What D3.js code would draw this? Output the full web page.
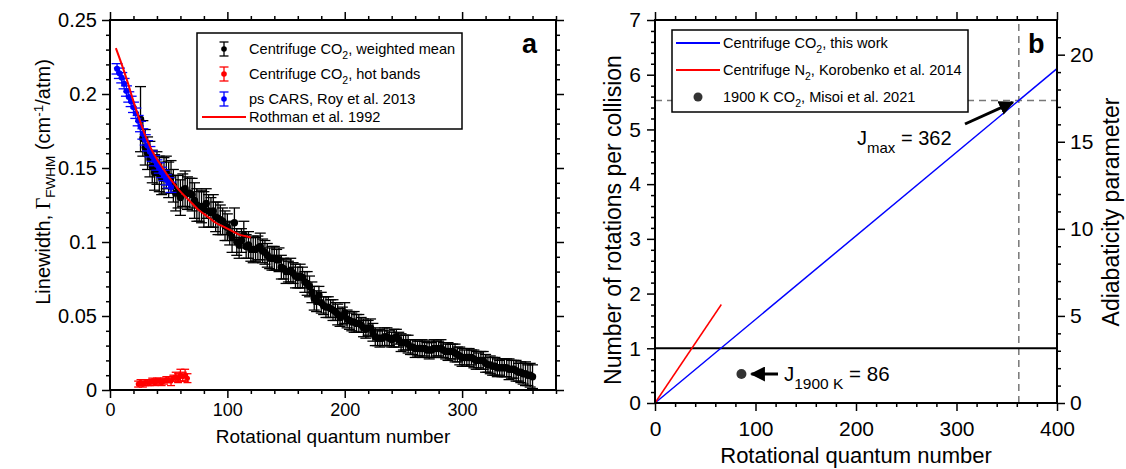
<!DOCTYPE html>
<html>
<head>
<meta charset="utf-8">
<script src="https://cdn.jsdelivr.net/npm/d3@7"></script>
<style>
  body { margin: 0; background: #fff; }
  svg text { font-family: "Liberation Sans", Arial, Helvetica, sans-serif; fill: #000; }
</style>
</head>
<body>
<svg id="chart" width="1126" height="469"></svg>
<script>
// ---- panel a: linewidth data ----
const meanJ = [26,28,30,32,34,36,38,40,42,44,46,48,50,52,54,56,58,60,62,64,66,68,70,72,74,76,78,80,82,84,
  86,88,90,92,94,96,98,100,102,104,106,108,110,112,114,116,118,120,122,124,126,128,130,132,134,136,138,140,
  142,144,146,148,150,152,154,156,158,160,162,164,166,168,170,172,174,176,178,180,182,184,186,188,190,192,
  194,196,198,200,202,204,206,208,210,212,214,216,218,220,222,224,226,228,230,232,234,236,238,240,242,244,
  246,248,250,252,254,256,258,260,262,264,266,268,270,272,274,276,278,280,282,284,286,288,290,292,294,296,
  298,300,302,304,306,308,310,312,314,316,318,320,322,324,326,328,330,332,334,336,338,340,342,344,346,348,
  350,352,354,356,358,360];
const meanG = [0.183,0.170,0.164,0.160,0.156,0.151,0.147,0.150,0.146,0.143,
  0.145,0.147,0.142,0.144,0.138,0.133,0.134,0.130,0.135,0.136,
  0.133,0.133,0.132,0.128,0.125,0.124,0.124,0.122,0.126,0.121,
  0.120,0.121,0.117,0.116,0.115,0.114,0.111,0.110,0.106,0.103,
  0.113,0.100,0.098,0.101,0.105,0.097,0.098,0.095,0.095,0.095,
  0.096,0.097,0.094,0.093,0.091,0.089,0.089,0.089,0.088,0.088,
  0.083,0.082,0.080,0.080,0.081,0.079,0.077,0.076,0.077,0.076,
  0.073,0.072,0.070,0.066,0.062,0.060,0.064,0.059,0.057,0.056,
  0.056,0.055,0.054,0.053,0.051,0.049,0.050,0.052,0.048,0.047,
  0.046,0.046,0.045,0.045,0.044,0.042,0.041,0.042,0.042,0.039,
  0.036,0.035,0.035,0.035,0.036,0.036,0.035,0.034,0.035,0.036,
  0.034,0.032,0.032,0.032,0.031,0.029,0.029,0.028,0.028,0.028,
  0.028,0.028,0.027,0.027,0.027,0.028,0.028,0.028,0.028,0.027,
  0.026,0.026,0.026,0.026,0.025,0.024,0.023,0.022,0.022,0.022,
  0.022,0.022,0.021,0.020,0.020,0.020,0.020,0.018,0.017,0.017,
  0.016,0.016,0.015,0.015,0.015,0.015,0.015,0.014,0.014,0.014,
  0.013,0.012,0.012,0.011,0.011,0.010,0.010,0.009];
const meanErr = [0.022,0.012,0.012,0.011,0.012,0.011,0.012,0.011,0.012,0.011,
  0.012,0.011,0.012,0.011,0.011,0.012,0.011,0.012,0.011,0.012,
  0.011,0.010,0.011,0.012,0.011,0.010,0.011,0.012,0.010,0.011,
  0.010,0.011,0.010,0.011,0.010,0.009,0.010,0.009,0.008,0.010,
  0.010,0.009,0.009,0.008,0.009,0.008,0.009,0.008,0.009,0.008,
  0.008,0.009,0.008,0.008,0.008,0.007,0.008,0.008,0.007,0.008,
  0.008,0.007,0.008,0.007,0.008,0.007,0.008,0.007,0.008,0.007,
  0.007,0.008,0.007,0.007,0.008,0.007,0.006,0.007,0.006,0.007,
  0.007,0.006,0.007,0.006,0.007,0.006,0.006,0.007,0.006,0.006,
  0.006,0.007,0.006,0.006,0.005,0.006,0.006,0.005,0.006,0.006,
  0.006,0.005,0.006,0.005,0.006,0.006,0.005,0.005,0.006,0.005,
  0.005,0.006,0.005,0.005,0.006,0.005,0.005,0.006,0.005,0.005,
  0.006,0.005,0.005,0.006,0.005,0.006,0.005,0.005,0.006,0.005,
  0.005,0.006,0.005,0.005,0.006,0.005,0.006,0.006,0.005,0.006,
  0.006,0.005,0.006,0.006,0.005,0.006,0.006,0.006,0.005,0.006,
  0.006,0.006,0.006,0.005,0.006,0.006,0.006,0.007,0.006,0.006,
  0.007,0.006,0.007,0.007,0.008,0.007,0.008,0.008];

const hotJ = [24,26,28,30,32,34,36,38,40,42,44,46,48,50,52,54,56,58,60,62,64,66];
const hotG = [0.004,0.005,0.004,0.005,0.005,0.005,0.006,0.005,0.006,0.006,0.005,
  0.006,0.007,0.007,0.006,0.008,0.009,0.008,0.010,0.009,0.010,0.008];
const hotErr = [0.002,0.002,0.002,0.002,0.002,0.002,0.002,0.002,0.002,0.002,0.002,
  0.002,0.002,0.002,0.003,0.002,0.003,0.003,0.004,0.003,0.004,0.003];

const carsJ = [6,8,10,12,14,16,18,20,22,24,26,28,30,32,34,36,38,40,42,44,46,48,50,52];
const carsG = [0.217,0.214,0.211,0.207,0.202,0.198,0.195,0.191,0.187,0.182,0.178,0.173,
  0.169,0.165,0.161,0.158,0.155,0.152,0.150,0.147,0.145,0.142,0.140,0.137];
const carsErr = 0.0035;

const rothJ = [5,10,15,20,25,30,35,40,45,50,55,60,65,70,75,80,85,90,95,100,105,110,115,120];
const rothG = [0.231,0.220,0.208,0.195,0.183,0.172,0.163,0.156,0.150,0.144,0.139,0.134,
  0.130,0.126,0.122,0.119,0.116,0.113,0.111,0.109,0.107,0.105,0.104,0.103];

// ---- panel b: rotations per collision ----
const co2LineJ = [0, 400];
const co2LineN = [0, 6.11];
const n2LineJ = [0, 66];
const n2LineN = [0, 1.8];
const misoiJ = 86, misoiN = 0.53;
const jMax = 362, nAtJmax = 5.53;

const svg = d3.select("#chart");

// scales
const xA = d3.scaleLinear().domain([0, 380]).range([110, 556]);
const yA = d3.scaleLinear().domain([0, 0.25]).range([390, 20]);
const xB = d3.scaleLinear().domain([0, 400]).range([655, 1057]);
const yB = d3.scaleLinear().domain([0, 7]).range([403, 20]);
// adiabaticity parameter = pi * rotations per collision
const yB2 = d3.scaleLinear().domain([0, 7 * Math.PI]).range([403, 20]);

// axis helper: major ticks with labels, minor ticks without
function addAxis(axisFn, scale, majors, minors, fmt, transform, fontSize, showLabels, pad) {
  const gMaj = svg.append("g").attr("transform", transform)
    .call(axisFn(scale).tickValues(majors).tickSize(8).tickSizeOuter(0).tickPadding(pad || 5)
      .tickFormat(showLabels ? fmt : ""));
  const gMin = svg.append("g").attr("transform", transform)
    .call(axisFn(scale).tickValues(minors).tickSize(4).tickSizeOuter(0).tickFormat(""));
  [gMaj, gMin].forEach(g => {
    g.select(".domain").remove();
    g.selectAll("line").attr("stroke", "#000").attr("stroke-width", 1.5);
    g.selectAll("text").style("font-size", fontSize + "px").attr("fill", "#000");
  });
  return gMaj;
}

const fmtG = d3.format("~g");

// ---------- panel a axes ----------
const aXMaj = [0, 100, 200, 300];
const aXMin = d3.range(20, 381, 20).filter(v => v % 100 !== 0);
const aYMaj = [0, 0.05, 0.1, 0.15, 0.2, 0.25];
const aYMin = d3.range(1, 25).filter(v => v % 5 !== 0).map(v => v / 100);

addAxis(d3.axisBottom, xA, aXMaj, aXMin, fmtG, "translate(0,390)", 18, true);
addAxis(d3.axisTop, xA, aXMaj, aXMin, fmtG, "translate(0,20)", 18, false);
addAxis(d3.axisLeft, yA, aYMaj, aYMin, fmtG, "translate(110,0)", 20, true);
addAxis(d3.axisRight, yA, aYMaj, aYMin, fmtG, "translate(556,0)", 18, false);

svg.append("rect").attr("x", 110).attr("y", 20).attr("width", 446).attr("height", 370)
  .attr("fill", "none").attr("stroke", "#000").attr("stroke-width", 2);

// error bar helper
function errorBars(js, gs, errs, color, r, capW, xs, ys) {
  const g = svg.append("g");
  js.forEach((j, i) => {
    const e = Array.isArray(errs) ? errs[i] : errs;
    const x = xs(j), y0 = ys(gs[i] - e), y1 = ys(gs[i] + e);
    g.append("line").attr("x1", x).attr("x2", x).attr("y1", y0).attr("y2", y1)
      .attr("stroke", color).attr("stroke-width", 1.3);
    [y0, y1].forEach(yy => g.append("line").attr("x1", x - capW / 2).attr("x2", x + capW / 2)
      .attr("y1", yy).attr("y2", yy).attr("stroke", color).attr("stroke-width", 1.3));
  });
  js.forEach((j, i) => {
    g.append("circle").attr("cx", xs(j)).attr("cy", ys(gs[i])).attr("r", r).attr("fill", color);
  });
}

errorBars(meanJ, meanG, meanErr, "#000", 3.7, 11, xA, yA);
errorBars(hotJ, hotG, hotErr, "#f00", 2.5, 8, xA, yA);
errorBars(carsJ, carsG, carsErr, "#00f", 3, 11, xA, yA);

svg.append("path")
  .datum(rothJ.map((j, i) => [j, rothG[i]]))
  .attr("fill", "none").attr("stroke", "#f00").attr("stroke-width", 2)
  .attr("d", d3.line().x(d => xA(d[0])).y(d => yA(d[1])).curve(d3.curveMonotoneX));

// legend a
svg.append("rect").attr("x", 197).attr("y", 33).attr("width", 265).attr("height", 96)
  .attr("fill", "#fff").attr("stroke", "#000").attr("stroke-width", 1.5);
const legA = [
  { y: 49, color: "#000", pre: "Centrifuge CO", sub: "2", post: ", weighted mean" },
  { y: 74, color: "#f00", pre: "Centrifuge CO", sub: "2", post: ", hot bands" },
  { y: 99, color: "#00f", pre: "ps CARS, Roy et al. 2013", sub: "", post: "" }
];
legA.forEach(d => {
  const x = 224;
  svg.append("line").attr("x1", x).attr("x2", x).attr("y1", d.y - 7).attr("y2", d.y + 7)
    .attr("stroke", d.color).attr("stroke-width", 1.3);
  [d.y - 7, d.y + 7].forEach(yy => svg.append("line").attr("x1", x - 4.5).attr("x2", x + 4.5)
    .attr("y1", yy).attr("y2", yy).attr("stroke", d.color).attr("stroke-width", 1.3));
  svg.append("circle").attr("cx", x).attr("cy", d.y).attr("r", 2.8).attr("fill", d.color);
  const t = svg.append("text").attr("x", 249).attr("y", d.y + 5).style("font-size", "14.6px");
  t.append("tspan").text(d.pre);
  if (d.sub) {
    t.append("tspan").attr("dy", 5).style("font-size", "10.5px").text(d.sub);
    t.append("tspan").attr("dy", -5).text(d.post);
  }
});
svg.append("line").attr("x1", 202).attr("x2", 246).attr("y1", 117).attr("y2", 117)
  .attr("stroke", "#f00").attr("stroke-width", 2);
svg.append("text").attr("x", 249).attr("y", 122).style("font-size", "14.6px").text("Rothman et al. 1992");

svg.append("text").attr("x", 522).attr("y", 53).style("font-size", "27px")
  .style("font-weight", "bold").text("a");

// axis titles a
svg.append("text").attr("x", xA(190)).attr("y", 443).attr("text-anchor", "middle")
  .style("font-size", "19px").text("Rotational quantum number");
const tA = svg.append("text").attr("transform", "translate(50,182) rotate(-90)")
  .attr("text-anchor", "middle").style("font-size", "20px");
tA.append("tspan").text("Linewidth, ");
tA.append("tspan").style("font-family", "'Liberation Serif', 'Times New Roman', serif").text("\u0393");
tA.append("tspan").attr("dy", 5).style("font-size", "13.5px").text("FWHM");
tA.append("tspan").attr("dy", -5).text(" (cm");
tA.append("tspan").attr("dy", -7).style("font-size", "13.5px").text("-1");
tA.append("tspan").attr("dy", 7).text("/atm)");

// ---------- panel b ----------
const bXMaj = [0, 100, 200, 300, 400];
const bXMin = d3.range(20, 400, 20).filter(v => v % 100 !== 0);
const bYMaj = [0, 1, 2, 3, 4, 5, 6, 7];
const bYMin = d3.range(1, 35).filter(v => v % 5 !== 0).map(v => v / 5);
const bY2Maj = [0, 5, 10, 15, 20];
const bY2Min = d3.range(1, 22).filter(v => v % 5 !== 0);

// guide lines
svg.append("line").attr("x1", xB(jMax)).attr("x2", xB(jMax)).attr("y1", yB(0)).attr("y2", yB(7))
  .attr("stroke", "#777").attr("stroke-width", 1.5).attr("stroke-dasharray", "7,5");
svg.append("line").attr("x1", xB(0)).attr("x2", xB(400)).attr("y1", yB(nAtJmax)).attr("y2", yB(nAtJmax))
  .attr("stroke", "#777").attr("stroke-width", 1.5).attr("stroke-dasharray", "7,5");
svg.append("line").attr("x1", xB(0)).attr("x2", xB(400)).attr("y1", yB(1)).attr("y2", yB(1))
  .attr("stroke", "#000").attr("stroke-width", 2);

const lineB = d3.line().x(d => xB(d[0])).y(d => yB(d[1]));
svg.append("path").datum(co2LineJ.map((j, i) => [j, co2LineN[i]]))
  .attr("fill", "none").attr("stroke", "#00f").attr("stroke-width", 1.5).attr("d", lineB);
svg.append("path").datum(n2LineJ.map((j, i) => [j, n2LineN[i]]))
  .attr("fill", "none").attr("stroke", "#f00").attr("stroke-width", 1.5).attr("d", lineB);
svg.append("circle").attr("cx", xB(misoiJ)).attr("cy", yB(misoiN)).attr("r", 5).attr("fill", "#333");

addAxis(d3.axisBottom, xB, bXMaj, bXMin, fmtG, "translate(0,403)", 21, true, 10);
addAxis(d3.axisTop, xB, bXMaj, bXMin, fmtG, "translate(0,20)", 21, false);
addAxis(d3.axisLeft, yB, bYMaj, bYMin, fmtG, "translate(655,0)", 21, true, 6);
addAxis(d3.axisRight, yB2, bY2Maj, bY2Min, fmtG, "translate(1057,0)", 21, true, 5);

svg.append("rect").attr("x", 655).attr("y", 20).attr("width", 402).attr("height", 383)
  .attr("fill", "none").attr("stroke", "#000").attr("stroke-width", 2);

// arrows
svg.append("defs").append("marker").attr("id", "head")
  .attr("viewBox", "0 0 10 10").attr("refX", 9).attr("refY", 5)
  .attr("markerWidth", 5).attr("markerHeight", 5).attr("orient", "auto")
  .append("path").attr("d", "M0,0 L10,5 L0,10 Z").attr("fill", "#000");
svg.append("line").attr("x1", 965).attr("y1", 124).attr("x2", xB(jMax) - 6).attr("y2", yB(nAtJmax) + 2)
  .attr("stroke", "#000").attr("stroke-width", 3).attr("marker-end", "url(#head)");
svg.append("line").attr("x1", 778).attr("y1", yB(misoiN)).attr("x2", xB(misoiJ) + 10).attr("y2", yB(misoiN))
  .attr("stroke", "#000").attr("stroke-width", 3).attr("marker-end", "url(#head)");

const tMax = svg.append("text").attr("x", 857).attr("y", 145).style("font-size", "20px");
tMax.append("tspan").text("J");
tMax.append("tspan").attr("dy", 8).style("font-size", "15px").text("max");
tMax.append("tspan").attr("dy", -8).text(" = 362");

const t19 = svg.append("text").attr("x", 784).attr("y", 381).style("font-size", "20.5px");
t19.append("tspan").text("J");
t19.append("tspan").attr("dy", 8).style("font-size", "15.5px").text("1900 K");
t19.append("tspan").attr("dy", -8).text(" = 86");

// legend b
svg.append("rect").attr("x", 672).attr("y", 30).attr("width", 296).attr("height", 82)
  .attr("fill", "#fff").attr("stroke", "#000").attr("stroke-width", 1.5);
const legB = [
  { y: 43, type: "line", color: "#00f", pre: "Centrifuge CO", sub: "2", post: ", this work" },
  { y: 70, type: "line", color: "#f00", pre: "Centrifuge N", sub: "2", post: ", Korobenko et al. 2014" },
  { y: 97, type: "dot", color: "#333", pre: "1900 K CO", sub: "2", post: ", Misoi et al. 2021" }
];
legB.forEach(d => {
  if (d.type === "line") {
    svg.append("line").attr("x1", 676).attr("x2", 720).attr("y1", d.y).attr("y2", d.y)
      .attr("stroke", d.color).attr("stroke-width", 2);
  } else {
    svg.append("circle").attr("cx", 698).attr("cy", d.y).attr("r", 4.5).attr("fill", d.color);
  }
  const t = svg.append("text").attr("x", 723).attr("y", d.y + 5).style("font-size", "14.6px");
  t.append("tspan").text(d.pre);
  t.append("tspan").attr("dy", 5).style("font-size", "10.5px").text(d.sub);
  t.append("tspan").attr("dy", -5).text(d.post);
});

svg.append("text").attr("x", 1028).attr("y", 53).style("font-size", "27px")
  .style("font-weight", "bold").text("b");

svg.append("text").attr("x", xB(200)).attr("y", 463).attr("text-anchor", "middle")
  .style("font-size", "22px").text("Rotational quantum number");
svg.append("text").attr("transform", "translate(621,220) rotate(-90)")
  .attr("text-anchor", "middle").style("font-size", "23px").text("Number of rotations per collision");
svg.append("text").attr("transform", "translate(1119,212) rotate(-90)")
  .attr("text-anchor", "middle").style("font-size", "23px").text("Adiabaticity parameter");
</script>
</body>
</html>
